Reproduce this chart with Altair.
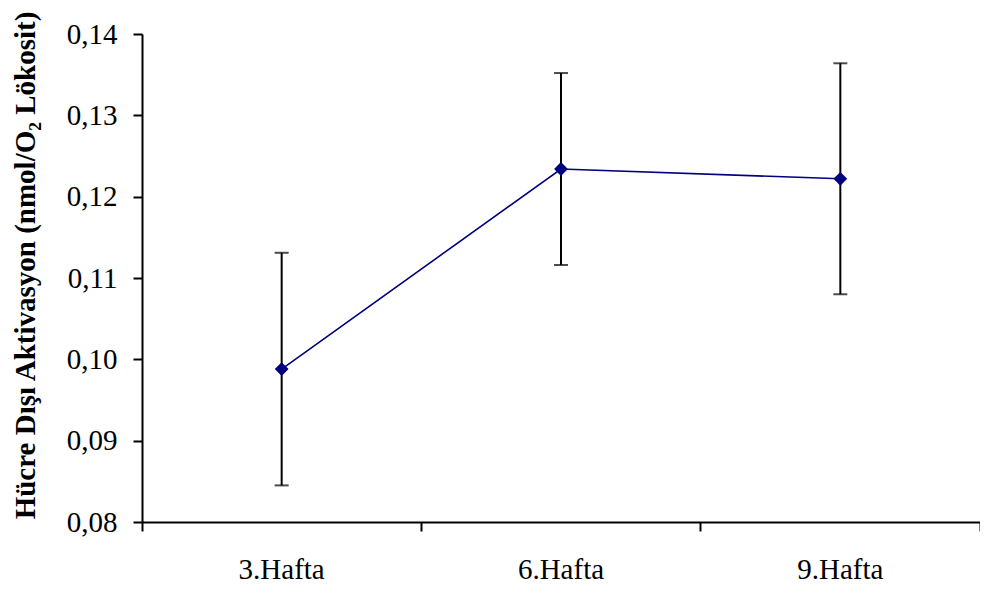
import altair as alt
import pandas as pd

weeks = ["3.Hafta", "6.Hafta", "9.Hafta"]
means = [0.0988, 0.1234, 0.1222]
errors = [0.0143, 0.0118, 0.0142]

df = pd.DataFrame({
    "week": weeks,
    "mean": means,
    "lo": [m - e for m, e in zip(means, errors)],
    "hi": [m + e for m, e in zip(means, errors)],
})

FONT = "Liberation Serif"

x_enc = alt.X(
    "week:N",
    sort=weeks,
    scale=alt.Scale(type="band", paddingInner=0, paddingOuter=0),
    axis=alt.Axis(
        title=None, labelAngle=0, bandPosition=1, tickExtra=True,
        tickSize=9, tickWidth=2, tickColor="black",
        domainColor="black", domainWidth=2,
        labelFont=FONT, labelFontSize=29, labelColor="black",
        labelPadding=24, grid=False,
    ),
)

y_scale = alt.Scale(domain=[0.08, 0.14], nice=False, zero=False)
y_axis = alt.Axis(
    title="Hücre Dışı Aktivasyon (nmol/O₂ Lökosit)",
    values=[0.08, 0.09, 0.10, 0.11, 0.12, 0.13, 0.14],
    labelExpr="replace(format(datum.value, '.2f'), '.', ',')",
    tickSize=9, tickWidth=2, tickColor="black",
    domainColor="black", domainWidth=2,
    labelFont=FONT, labelFontSize=29, labelColor="black", labelPadding=16,
    titleFont=FONT, titleFontSize=29, titleFontWeight="bold", titleColor="black",
    titlePadding=26, titleY=231, grid=False,
)

base = alt.Chart(df)

rules = base.mark_rule(color="black", strokeWidth=2).encode(
    x=x_enc,
    y=alt.Y("lo:Q", scale=y_scale, axis=y_axis),
    y2="hi:Q",
)
caps_hi = base.mark_tick(color="black", size=14, thickness=2).encode(
    x=alt.X("week:N", sort=weeks), y=alt.Y("hi:Q")
)
caps_lo = base.mark_tick(color="black", size=14, thickness=2).encode(
    x=alt.X("week:N", sort=weeks), y=alt.Y("lo:Q")
)
line = base.mark_line(color="#000080", strokeWidth=1.6).encode(
    x=alt.X("week:N", sort=weeks), y=alt.Y("mean:Q")
)
pts = base.mark_point(shape="diamond", filled=True, color="#000080", size=190, opacity=1).encode(
    x=alt.X("week:N", sort=weeks), y=alt.Y("mean:Q")
)

chart = alt.layer(rules, caps_hi, caps_lo, line, pts).properties(
    width=838,
    height=488,
    background="white",
    autosize=alt.AutoSizeParams(type="none"),
    padding={"left": 134, "top": 26, "right": 0, "bottom": 62},
).configure_view(stroke="transparent", strokeWidth=0)

chart.save("out.html", embed_options={"renderer": "svg", "actions": False})
